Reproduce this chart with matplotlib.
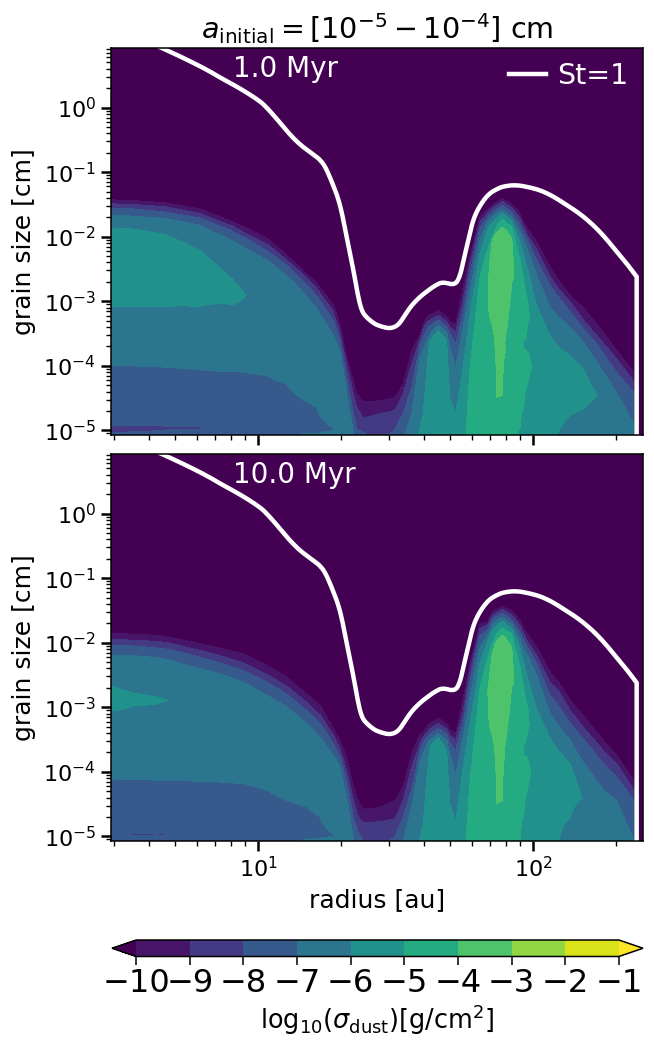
import numpy as np
import matplotlib
matplotlib.use("Agg")
import matplotlib.pyplot as plt
from matplotlib.ticker import LogLocator, NullFormatter, FixedLocator

# log10(radius/au), then (log10(grain size/cm), log10(sigma_dust)) pairs
columns_1myr = [
 (0.462, [(-5.09,-7.8),(-5.03,-8),(-4.98,-8.3),(-4.92,-8),(-4.0,-7),(-3.09,-6),(-2.5,-5.6),(-1.86,-6),(-1.67,-7),(-1.57,-8),(-1.49,-9),(-1.43,-10)]),
 (0.547, [(-5.09,-7.8),(-5.02,-8),(-4.97,-8.3),(-4.92,-8),(-4.0,-7),(-3.08,-6),(-2.5,-5.6),(-1.88,-6),(-1.68,-7),(-1.57,-8),(-1.50,-9),(-1.44,-10)]),
 (0.668, [(-5.09,-7.7),(-4.99,-8),(-4.97,-8.1),(-4.94,-8),(-4.02,-7),(-3.08,-6),(-2.55,-5.65),(-1.97,-6),(-1.72,-7),(-1.62,-8),(-1.54,-9),(-1.48,-10)]),
 (0.789, [(-5.09,-7.7),(-4.97,-8.03),(-4.06,-7),(-3.08,-6),(-2.65,-5.75),(-2.21,-6),(-1.82,-7),(-1.71,-8),(-1.64,-9),(-1.57,-10)]),
 (0.910, [(-5.09,-7.3),(-4.97,-7.5),(-4.08,-7),(-3.05,-6),(-2.85,-5.8),(-2.67,-6),(-2.07,-7),(-1.92,-8),(-1.84,-9),(-1.77,-10)]),
 (0.955, [(-5.09,-7.3),(-4.97,-7.4),(-4.10,-7),(-2.91,-5.99),(-2.18,-7),(-2.02,-8),(-1.95,-9),(-1.86,-10)]),
 (1.032, [(-5.09,-7.2),(-4.15,-7),(-3.0,-6.4),(-2.36,-7),(-2.22,-8),(-2.11,-9),(-2.02,-10)]),
 (1.104, [(-5.09,-7.1),(-4.9,-7.2),(-4.28,-7),(-3.2,-6.4),(-2.6,-7),(-2.44,-8),(-2.36,-9),(-2.28,-10)]),
 (1.153, [(-5.09,-6.9),(-5.06,-7),(-4.9,-7.15),(-4.49,-7),(-3.4,-6.4),(-2.8,-7),(-2.65,-8),(-2.54,-9),(-2.48,-10)]),
 (1.213, [(-5.09,-6.9),(-5.05,-7),(-4.9,-7.1),(-4.64,-7),(-4.0,-6.4),(-3.11,-7),(-2.91,-8),(-2.8,-9),(-2.72,-10)]),
 (1.274, [(-5.09,-6.9),(-4.98,-7.03),(-4.7,-6.7),(-4.2,-6.5),(-3.53,-7),(-3.3,-8),(-3.16,-9),(-3.06,-10)]),
 (1.298, [(-5.09,-6.8),(-4.4,-6.7),(-3.76,-7),(-3.6,-8),(-3.48,-9),(-3.35,-10)]),
 (1.322, [(-5.09,-6.8),(-4.7,-6.8),(-4.38,-7),(-4.17,-8),(-3.97,-9),(-3.86,-10)]),
 (1.347, [(-5.09,-6.9),(-5.03,-7),(-4.74,-8),(-4.43,-9),(-4.23,-10)]),
 (1.359, [(-5.09,-7.7),(-4.98,-8),(-4.64,-9),(-4.43,-10)]),
 (1.383, [(-5.09,-7.9),(-5.03,-8),(-4.81,-9),(-4.56,-10)]),
 (1.443, [(-5.09,-8.1),(-4.74,-9),(-4.54,-10)]),
 (1.498, [(-5.09,-7.9),(-4.98,-8),(-4.69,-9),(-4.49,-10)]),
 (1.528, [(-5.09,-7.1),(-4.74,-8),(-4.43,-9),(-4.28,-10)]),
 (1.559, [(-5.09,-6.3),(-4.74,-7),(-4.33,-8),(-3.97,-9),(-3.76,-10)]),
 (1.589, [(-5.09,-5.9),(-4.95,-6),(-3.86,-7),(-3.68,-8),(-3.58,-9),(-3.53,-10)]),
 (1.601, [(-5.09,-5.8),(-4.72,-6),(-3.76,-7),(-3.55,-8),(-3.42,-9),(-3.37,-10)]),
 (1.616, [(-5.09,-5.7),(-3.92,-6),(-3.6,-7),(-3.42,-8),(-3.32,-9),(-3.24,-10)]),
 (1.625, [(-5.09,-5.6),(-3.6,-6),(-3.5,-7),(-3.37,-8),(-3.29,-9),(-3.22,-10)]),
 (1.656, [(-5.09,-5.3),(-3.45,-6),(-3.37,-7),(-3.29,-8),(-3.22,-9),(-3.14,-10)]),
 (1.686, [(-5.09,-5.5),(-3.6,-6),(-3.48,-7),(-3.4,-8),(-3.32,-9),(-3.24,-10)]),
 (1.698, [(-5.09,-5.7),(-4.49,-6),(-3.71,-7),(-3.5,-8),(-3.4,-9),(-3.32,-10)]),
 (1.719, [(-5.09,-5.6),(-4.74,-6),(-4.02,-7),(-3.66,-8),(-3.48,-9),(-3.35,-10)]),
 (1.746, [(-5.09,-5.2),(-4.02,-6),(-3.4,-7),(-3.19,-8),(-2.98,-9),(-2.78,-10)]),
 (1.771, [(-5.09,-4.7),(-4.02,-5),(-3.19,-6),(-2.83,-7),(-2.57,-8),(-2.41,-9),(-2.31,-10)]),
 (1.807, [(-5.09,-4.6),(-2.62,-5),(-2.26,-6),(-2.05,-7),(-1.87,-8),(-1.77,-9),(-1.69,-10)]),
 (1.834, [(-5.09,-4.5),(-2.75,-4.01),(-2.2,-5),(-1.87,-6),(-1.776,-7),(-1.70,-8),(-1.636,-9),(-1.58,-10)]),
 (1.850, [(-5.09,-4.5),(-3.32,-4),(-2.7,-3.7),(-2.08,-4),(-2.02,-5),(-1.79,-6),(-1.71,-7),(-1.636,-8),(-1.57,-9),(-1.517,-10)]),
 (1.858, [(-5.09,-4.4),(-4.2,-4.05),(-3.75,-4.03),(-3.5,-4),(-2.7,-3.7),(-1.98,-4),(-1.95,-5),(-1.755,-6),(-1.67,-7),(-1.60,-8),(-1.54,-9),(-1.49,-10)]),
 (1.868, [(-5.09,-4.3),(-4.52,-4),(-3.75,-3.98),(-2.7,-3.6),(-1.93,-4),(-1.84,-5),(-1.71,-6),(-1.636,-7),(-1.57,-8),(-1.506,-9),(-1.465,-10)]),
 (1.889, [(-5.09,-4.25),(-4.46,-4),(-3.7,-3.95),(-2.7,-3.5),(-1.854,-4),(-1.724,-5),(-1.636,-6),(-1.585,-7),(-1.51,-8),(-1.455,-9),(-1.41,-10)]),
 (1.901, [(-5.09,-4.5),(-4.4,-4.2),(-3.75,-4.0),(-3.65,-4.03),(-3.53,-4),(-2.7,-3.6),(-1.895,-4),(-1.79,-5),(-1.69,-6),(-1.62,-7),(-1.55,-8),(-1.49,-9),(-1.44,-10)]),
 (1.923, [(-5.09,-4.9),(-3.7,-4.4),(-2.7,-4),(-2.4,-3.8),(-2.02,-4),(-1.84,-5),(-1.76,-6),(-1.70,-7),(-1.62,-8),(-1.55,-9),(-1.50,-10)]),
 (1.953, [(-5.09,-5.1),(-4.95,-5),(-3.7,-4.7),(-3.0,-4.5),(-2.36,-5),(-2.08,-6),(-1.92,-7),(-1.82,-8),(-1.71,-9),(-1.636,-10)]),
 (1.965, [(-5.09,-5.2),(-4.67,-5),(-4.0,-4.8),(-3.72,-5),(-3.66,-5.02),(-3.58,-5),(-3.1,-4.8),(-2.65,-5),(-2.28,-6),(-2.05,-7),(-1.92,-8),(-1.84,-9),(-1.766,-10)]),
 (1.983, [(-5.09,-5.6),(-4.23,-5),(-3.99,-4.8),(-3.79,-5),(-3.53,-5.05),(-3.29,-5),(-3.17,-4.95),(-3.06,-5),(-2.54,-6),(-2.23,-7),(-2.08,-8),(-2.0,-9),(-1.895,-10)]),
 (2.013, [(-5.09,-5.8),(-4.0,-5.3),(-3.06,-6),(-2.59,-7),(-2.36,-8),(-2.19,-9),(-2.08,-10)]),
 (2.062, [(-5.09,-5.9),(-4.25,-5.4),(-3.53,-6),(-3.09,-7),(-2.75,-8),(-2.62,-9),(-2.465,-10)]),
 (2.092, [(-5.09,-6.1),(-5.03,-6),(-4.36,-5.5),(-3.71,-6),(-3.24,-7),(-2.93,-8),(-2.8,-9),(-2.67,-10)]),
 (2.135, [(-5.09,-6.4),(-4.77,-6),(-4.3,-5.6),(-3.84,-6),(-3.4,-7),(-3.16,-8),(-3.01,-9),(-2.91,-10)]),
 (2.183, [(-5.09,-6.5),(-4.67,-6),(-4.35,-5.7),(-4.05,-6),(-3.63,-7),(-3.42,-8),(-3.29,-9),(-3.1,-10)]),
 (2.232, [(-5.09,-6.6),(-4.46,-5.99),(-3.94,-7),(-3.66,-8),(-3.53,-9),(-3.35,-10)]),
 (2.304, [(-5.09,-6.7),(-4.7,-6.5),(-4.41,-7),(-4.1,-8),(-3.89,-9),(-3.76,-10)]),
 (2.377, [(-5.09,-6.8),(-4.98,-7),(-4.46,-8),(-4.3,-9),(-4.15,-10)]),
]

columns_10myr = [
 (0.462, [(-5.09,-7.5),(-4.95,-7.9),(-4.13,-7),(-3.06,-6),(-2.87,-5.7),(-2.67,-6),(-2.19,-7),(-2.04,-8),(-1.95,-9),(-1.86,-10)]),
 (0.547, [(-5.09,-7.5),(-4.99,-8),(-4.975,-8.1),(-4.96,-8),(-4.11,-7),(-2.98,-6),(-2.88,-5.9),(-2.78,-6),(-2.2,-7),(-2.05,-8),(-1.96,-9),(-1.866,-10)]),
 (0.632, [(-5.09,-7.5),(-4.985,-8),(-4.975,-8.05),(-4.965,-8),(-4.13,-7),(-2.95,-6),(-2.89,-5.95),(-2.84,-6),(-2.23,-7),(-2.08,-8),(-1.98,-9),(-1.886,-10)]),
 (0.672, [(-5.09,-7.5),(-4.97,-8.02),(-4.13,-7),(-2.89,-6),(-2.26,-7),(-2.10,-8),(-2.0,-9),(-1.91,-10)]),
 (0.741, [(-5.09,-7.5),(-4.97,-7.9),(-4.14,-7),(-3.0,-6.1),(-2.35,-7),(-2.17,-8),(-2.07,-9),(-1.97,-10)]),
 (0.838, [(-5.09,-7.5),(-4.15,-7),(-3.0,-6.2),(-2.45,-7),(-2.28,-8),(-2.17,-9),(-2.06,-10)]),
 (0.947, [(-5.09,-7.4),(-4.18,-7),(-3.1,-6.3),(-2.61,-7),(-2.43,-8),(-2.31,-9),(-2.17,-10)]),
 (1.032, [(-5.09,-7.3),(-4.28,-7),(-3.3,-6.4),(-2.81,-7),(-2.61,-8),(-2.49,-9),(-2.35,-10)]),
 (1.104, [(-5.09,-7.1),(-4.44,-7),(-3.5,-6.4),(-2.99,-7),(-2.79,-8),(-2.67,-9),(-2.53,-10)]),
 (1.177, [(-5.09,-6.9),(-5.05,-7),(-4.85,-7.15),(-4.54,-7),(-3.9,-6.5),(-3.25,-7),(-3.05,-8),(-2.92,-9),(-2.79,-10)]),
 (1.226, [(-5.09,-6.9),(-5.03,-7),(-4.9,-7.1),(-4.7,-7),(-4.2,-6.5),(-3.46,-7),(-3.25,-8),(-3.12,-9),(-2.97,-10)]),
 (1.274, [(-5.09,-6.9),(-4.98,-7.02),(-4.7,-6.7),(-4.3,-6.5),(-3.74,-7),(-3.56,-8),(-3.43,-9),(-3.33,-10)]),
 (1.298, [(-5.09,-6.8),(-4.4,-6.6),(-3.92,-7),(-3.77,-8),(-3.64,-9),(-3.51,-10)]),
 (1.322, [(-5.09,-6.8),(-4.7,-6.8),(-4.39,-7),(-4.13,-8),(-3.97,-9),(-3.77,-10)]),
 (1.347, [(-5.09,-6.9),(-5.03,-7),(-4.7,-8),(-4.44,-9),(-4.23,-10)]),
 (1.365, [(-5.09,-7.7),(-4.95,-8),(-4.7,-9),(-4.46,-10)]),
 (1.383, [(-5.09,-7.9),(-5.06,-8),(-4.79,-9),(-4.58,-10)]),
 (1.443, [(-5.09,-8.1),(-4.77,-9),(-4.55,-10)]),
 (1.498, [(-5.09,-7.9),(-5.0,-8),(-4.73,-9),(-4.44,-10)]),
 (1.528, [(-5.09,-6.9),(-5.06,-7),(-4.7,-8),(-4.44,-9),(-4.23,-10)]),
 (1.559, [(-5.09,-6.3),(-4.54,-7),(-4.28,-8),(-3.92,-9),(-3.72,-10)]),
 (1.589, [(-5.09,-5.95),(-5.03,-6),(-3.82,-7),(-3.66,-8),(-3.56,-9),(-3.41,-10)]),
 (1.601, [(-5.09,-5.8),(-4.8,-6),(-3.72,-7),(-3.54,-8),(-3.46,-9),(-3.38,-10)]),
 (1.616, [(-5.09,-5.7),(-3.97,-6),(-3.56,-7),(-3.46,-8),(-3.38,-9),(-3.30,-10)]),
 (1.625, [(-5.09,-5.6),(-3.61,-6),(-3.51,-7),(-3.41,-8),(-3.33,-9),(-3.25,-10)]),
 (1.656, [(-5.09,-5.3),(-3.47,-6),(-3.41,-7),(-3.33,-8),(-3.25,-9),(-3.17,-10)]),
 (1.686, [(-5.09,-5.5),(-3.66,-6),(-3.51,-7),(-3.41,-8),(-3.33,-9),(-3.25,-10)]),
 (1.698, [(-5.09,-5.7),(-4.49,-6),(-3.72,-7),(-3.56,-8),(-3.43,-9),(-3.35,-10)]),
 (1.719, [(-5.09,-5.6),(-4.77,-6),(-4.05,-7),(-3.66,-8),(-3.51,-9),(-3.41,-10)]),
 (1.746, [(-5.09,-5.2),(-3.92,-6),(-3.46,-7),(-3.25,-8),(-3.07,-9),(-2.87,-10)]),
 (1.771, [(-5.09,-4.7),(-4.13,-5),(-3.25,-6),(-2.84,-7),(-2.58,-8),(-2.43,-9),(-2.32,-10)]),
 (1.807, [(-5.09,-4.6),(-2.68,-5),(-2.32,-6),(-2.07,-7),(-1.89,-8),(-1.78,-9),(-1.71,-10)]),
 (1.834, [(-5.09,-4.6),(-2.8,-3.99),(-2.25,-5),(-1.99,-6),(-1.886,-7),(-1.81,-8),(-1.73,-9),(-1.68,-10)]),
 (1.850, [(-5.09,-4.5),(-3.41,-4),(-2.75,-3.7),(-2.2,-4),(-2.04,-5),(-1.83,-6),(-1.75,-7),(-1.665,-8),(-1.6,-9),(-1.54,-10)]),
 (1.858, [(-5.09,-4.4),(-4.2,-4.05),(-3.77,-4.02),(-3.56,-4),(-2.75,-3.7),(-2.07,-4),(-1.96,-5),(-1.77,-6),(-1.69,-7),(-1.61,-8),(-1.556,-9),(-1.5,-10)]),
 (1.868, [(-5.09,-4.3),(-4.5,-4),(-3.75,-3.98),(-2.75,-3.6),(-1.96,-4),(-1.86,-5),(-1.73,-6),(-1.655,-7),(-1.59,-8),(-1.535,-9),(-1.484,-10)]),
 (1.889, [(-5.09,-4.25),(-4.46,-4),(-3.7,-3.95),(-2.75,-3.5),(-1.886,-4),(-1.768,-5),(-1.665,-6),(-1.603,-7),(-1.541,-8),(-1.484,-9),(-1.438,-10)]),
 (1.898, [(-5.09,-4.5),(-4.4,-4.2),(-3.74,-4.0),(-3.68,-4.02),(-3.6,-4),(-2.75,-3.6),(-1.91,-4),(-1.8,-5),(-1.706,-6),(-1.64,-7),(-1.567,-8),(-1.51,-9),(-1.458,-10)]),
 (1.923, [(-5.09,-4.9),(-3.7,-4.4),(-2.68,-4),(-2.4,-3.8),(-2.07,-4),(-1.86,-5),(-1.78,-6),(-1.716,-7),(-1.644,-8),(-1.567,-9),(-1.51,-10)]),
 (1.953, [(-5.09,-5.03),(-5.06,-5),(-3.7,-4.7),(-3.0,-4.5),(-2.38,-5),(-2.09,-6),(-1.94,-7),(-1.835,-8),(-1.73,-9),(-1.654,-10)]),
 (1.965, [(-5.09,-5.2),(-4.7,-5),(-4.1,-4.8),(-3.74,-5),(-3.65,-5.02),(-3.56,-5),(-3.1,-4.8),(-2.69,-5),(-2.3,-6),(-2.09,-7),(-1.95,-8),(-1.86,-9),(-1.78,-10)]),
 (1.983, [(-5.09,-5.6),(-4.2,-5),(-4.0,-4.85),(-3.82,-5),(-3.55,-5.05),(-3.3,-5),(-3.15,-4.95),(-3.05,-5),(-2.58,-6),(-2.22,-7),(-2.09,-8),(-2.0,-9),(-1.886,-10)]),
 (2.013, [(-5.09,-5.7),(-4.1,-5.4),(-3.02,-6),(-2.5,-7),(-2.32,-8),(-2.2,-9),(-2.07,-10)]),
 (2.062, [(-5.09,-5.85),(-4.3,-5.5),(-3.48,-6),(-3.1,-7),(-2.81,-8),(-2.61,-9),(-2.45,-10)]),
 (2.096, [(-5.09,-6.1),(-5.03,-6),(-4.3,-5.6),(-3.69,-6),(-3.3,-7),(-2.99,-8),(-2.76,-9),(-2.63,-10)]),
 (2.135, [(-5.09,-6.5),(-4.7,-6),(-4.3,-5.8),(-3.87,-6),(-3.51,-7),(-3.25,-8),(-3.05,-9),(-2.89,-10)]),
 (2.177, [(-5.09,-6.6),(-4.39,-5.98),(-3.82,-7),(-3.46,-8),(-3.28,-9),(-3.1,-10)]),
 (2.256, [(-5.09,-6.8),(-4.7,-6.5),(-4.28,-7),(-3.87,-8),(-3.67,-9),(-3.51,-10)]),
 (2.304, [(-5.09,-6.85),(-4.8,-6.7),(-4.44,-7),(-4.08,-8),(-3.87,-9),(-3.74,-10)]),
 (2.367, [(-5.09,-6.95),(-5.06,-7),(-4.44,-8),(-4.28,-9),(-4.13,-10)]),
 (2.377, [(-5.09,-6.95),(-5.06,-7),(-4.44,-8),(-4.28,-9),(-4.13,-10)]),
]

# St=1 curve: log10(radius/au), log10(grain size/cm)
stokes_log_r = [0.62,0.644,0.728,0.813,0.862,0.909,0.959,1.007,1.032,1.08,1.116,1.153,1.177,1.207,1.225,1.244,1.268,1.298,1.322,1.347,1.365,1.377,1.39,1.42,1.443,1.48,1.51,1.534,1.559,1.589,1.619,1.646,1.671,1.716,1.734,1.749,1.765,1.779,1.795,1.819,1.843,1.868,1.892,1.94,2.001,2.037,2.074,2.122,2.159,2.195,2.231,2.268,2.304,2.34,2.377]
stokes_log_a = [0.98,0.935,0.77,0.589,0.465,0.357,0.233,0.098,0.0,-0.233,-0.419,-0.574,-0.65,-0.744,-0.806,-0.91,-1.142,-1.48,-1.999,-2.517,-2.95,-3.14,-3.23,-3.34,-3.385,-3.424,-3.372,-3.216,-3.06,-2.93,-2.83,-2.75,-2.70,-2.75,-2.62,-2.335,-2.05,-1.79,-1.61,-1.44,-1.325,-1.263,-1.22,-1.196,-1.248,-1.299,-1.377,-1.507,-1.61,-1.729,-1.869,-2.04,-2.232,-2.41,-2.62]
stokes_bottom_log_a = -5.2

levels = [-10,-9,-8,-7,-6,-5,-4,-3,-2,-1]
time_labels = ["1.0 Myr", "10.0 Myr"]
cbar_ticks = levels
BOTTOM = -5.09
EDGE_LEVELS = [-4, -5, -6, -7, -8, -9, -10]


def anchors(pairs):
    """Uppermost crossing of each level; the column's peak where a level is not reached."""
    a = np.array([p[0] for p in pairs])
    v = np.array([p[1] for p in pairs])
    af = np.arange(BOTTOM, a[-1] + 1e-6, 0.001)
    vf = np.interp(af, a, v)
    peak = af[np.argmax(vf)]
    out = [BOTTOM]
    for k, L in enumerate(EDGE_LEVELS):
        idx = np.where(vf >= L - 1e-9)[0]
        pos = af[idx[-1]] if len(idx) else peak
        out.append(max(pos, out[-1] + 1e-5))
    return np.array(out)


def field(columns):
    """Mesh for the contouring: between read columns the level edges move straight across."""
    rows = np.arange(BOTTOM, 1.2, 0.005)
    logr = np.array([c[0] for c in columns])
    s_anchor = np.arange(len(EDGE_LEVELS) + 1)
    s_grid = np.linspace(0, s_anchor[-1], 2401)
    P, F = [], []
    for _, pairs in columns:
        pairs = sorted(pairs)
        heights = np.interp(s_grid, s_anchor, anchors(pairs))
        P.append(heights)
        F.append(np.interp(heights, [p[0] for p in pairs], [p[1] for p in pairs]))
    P, F = np.array(P), np.array(F)
    fine_r = np.arange(logr[0], logr[-1] + 1e-9, 0.0015)
    Z = np.empty((len(rows), len(fine_r)))
    for k, lr in enumerate(fine_r):
        i = min(np.searchsorted(logr, lr, side="right") - 1, len(logr) - 2)
        t = (lr - logr[i]) / (logr[i+1] - logr[i])
        a = (1 - t) * P[i] + t * P[i+1]
        prof = (1 - t) * F[i] + t * F[i+1]
        Z[:, k] = np.interp(rows, np.r_[a, a[-1] + 0.25, 1.3], np.r_[prof, -11.5, -30.0])
    return 10**fine_r, 10**rows, Z


def rounded(x, y, n=2):
    """Corner cutting for drawing the read curve as a smooth stroke."""
    x, y = np.asarray(x, float), np.asarray(y, float)
    for _ in range(n):
        xn = np.c_[0.75*x[:-1] + 0.25*x[1:], 0.25*x[:-1] + 0.75*x[1:]].ravel()
        yn = np.c_[0.75*y[:-1] + 0.25*y[1:], 0.25*y[:-1] + 0.75*y[1:]].ravel()
        x, y = np.r_[x[0], xn, x[-1]], np.r_[y[0], yn, y[-1]]
    return x, y


W, H = 654, 1045
fig = plt.figure(figsize=(W/100, H/100), dpi=100)
ax1 = fig.add_axes([110.5/W, (H-435)/H, 532.5/W, 387.5/H])
ax2 = fig.add_axes([110.5/W, (H-841)/H, 532.5/W, 387.5/H])
cax = fig.add_axes([112/W, (H-956.5)/H, 531/W, 16.5/H])

sx, sy = rounded(stokes_log_r, stokes_log_a)
sx = np.r_[sx, stokes_log_r[-1]]
sy = np.r_[sy, stokes_bottom_log_a]

for ax, cols, tlabel in zip([ax1, ax2], [columns_1myr, columns_10myr], time_labels):
    ax.set_facecolor("#440154")
    R, A, Z = field(cols)
    cs = ax.contourf(R, A, Z, levels=levels, cmap="viridis", extend="both")
    ax.plot(10**sx, 10**sy, color="white", lw=3.2, label="St=1", solid_joinstyle="miter")
    ax.set_xscale("log")
    ax.set_yscale("log")
    ax.set_xlim(10**0.4636, 10**2.4)
    ax.set_ylim(10**-5.07, 10**0.93)
    ax.yaxis.set_major_locator(FixedLocator([1e-5,1e-4,1e-3,1e-2,1e-1,1e0]))
    ax.yaxis.set_minor_locator(LogLocator(base=10, subs=range(2, 10), numticks=20))
    ax.xaxis.set_minor_locator(LogLocator(base=10, subs=range(2, 10), numticks=20))
    ax.xaxis.set_minor_formatter(NullFormatter())
    ax.yaxis.set_minor_formatter(NullFormatter())
    ax.tick_params(which="major", length=7, width=1.8, labelsize=16)
    ax.tick_params(which="minor", length=3.5, width=1.0)
    for s in ax.spines.values():
        s.set_linewidth(1.1)
    ax.set_ylabel("grain size [cm]", fontsize=18, labelpad=5.5)
    ax.text(0.23, 0.925, tlabel, transform=ax.transAxes, color="white", fontsize=20, va="baseline")

ax1.set_title(r"$a_{\rm initial} = [10^{-5} - 10^{-4}]$ cm", fontsize=20.6, pad=6)
ax1.tick_params(axis="x", which="both", labelbottom=False)
ax2.set_xlabel("radius [au]", fontsize=18, labelpad=5)
leg = ax1.legend(loc="upper right", frameon=False, fontsize=20.5, handlelength=1.3, handletextpad=0.4,
                 labelcolor="white", borderaxespad=0.2, borderpad=0.3)

cb = fig.colorbar(cs, cax=cax, orientation="horizontal", ticks=cbar_ticks)
cb.ax.tick_params(length=6, width=1.1, labelsize=23, pad=2)
cb.outline.set_linewidth(1.1)
cb.set_label(r"${\rm log}_{10}(\sigma_{\rm dust})[{\rm g/cm^2}]$", fontsize=18.4, labelpad=2.5)

fig.savefig("out.png", dpi=100)
